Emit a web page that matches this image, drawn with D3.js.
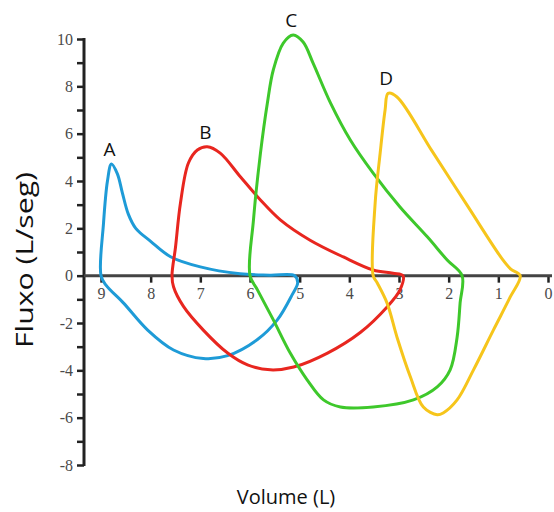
<!DOCTYPE html>
<html>
<head>
<meta charset="utf-8">
<script src="https://cdn.jsdelivr.net/npm/d3@7"></script>
<style>
    body { margin: 0; background: #fff; }
    .tick text { font-family: "Liberation Serif", "DejaVu Serif", serif; fill: #4a4a4a; }
</style>
</head>
<body>
<svg id="chart" width="554" height="512"></svg>
<script>
/**
 * Flow-volume loops. Each loop is a list of [volume (L), flow (L/s)] points, in drawing order.
 */
const loopA = [[9.0, 0], [8.95, 2.2], [8.87, 4.0], [8.79, 4.72], [8.67, 4.3], [8.57, 3.5], [8.45, 2.6],
    [8.3, 2.0], [8.0, 1.45], [7.6, 0.8], [7.0, 0.37], [6.2, 0.08], [5.6, 0.02], [5.1, 0],
    [5.04, -0.3], [5.15, -0.8], [5.45, -1.87], [5.85, -2.7], [6.45, -3.38], [6.94, -3.5], [7.54, -3.14],
    [8.06, -2.3], [8.55, -1.15], [8.9, -0.4]];

const loopB = [[7.57, 0], [7.5, 1.2], [7.4, 3.07], [7.24, 4.76], [7.06, 5.31], [6.86, 5.45], [6.6, 5.18],
    [6.19, 4.17], [5.79, 3.2], [5.39, 2.36], [4.79, 1.5], [4.12, 0.79], [3.52, 0.24], [3.12, 0.1],
    [2.92, 0], [2.98, -0.6], [3.24, -1.32], [3.78, -2.4], [4.44, -3.27], [5.12, -3.86], [5.59, -3.98],
    [6.05, -3.77], [6.45, -3.27], [6.94, -2.3], [7.34, -1.3], [7.54, -0.47]];

const loopC = [[6.0, 0], [5.93, 2.36], [5.79, 5.17], [5.65, 7.3], [5.53, 8.7], [5.33, 9.83], [5.13, 10.17],
    [4.93, 9.87], [4.73, 8.98], [4.38, 7.3], [3.98, 5.73], [3.52, 4.33], [2.98, 2.9], [2.43, 1.64],
    [2.03, 0.66], [1.73, 0], [1.77, -1.16], [1.83, -2.6], [1.97, -3.98], [2.23, -4.7], [2.71, -5.25],
    [3.52, -5.55], [4.18, -5.55], [4.52, -5.25], [4.85, -4.4], [5.19, -3.27], [5.53, -1.87], [5.85, -0.6]];

const loopD = [[3.52, 0], [3.48, 3.07], [3.38, 5.17], [3.28, 7.0], [3.22, 7.7], [3.04, 7.55], [2.33, 5.25],
    [1.63, 2.98], [0.92, 0.7], [0.75, 0.28], [0.56, 0], [0.76, -0.9], [1.1, -2.3],
    [1.5, -3.98], [1.83, -5.25], [2.11, -5.8], [2.23, -5.88], [2.51, -5.55], [2.77, -4.28],
    [3.04, -2.6], [3.24, -1.16], [3.44, -0.3]];

const loopNames = ['A', 'B', 'C', 'D'];
const loopColors = ['#1e9bd7', '#e8261f', '#3ec82b', '#f6c51b'];

const xTicks = [9, 8, 7, 6, 5, 4, 3, 2, 1, 0];
const yTicks = [-8, -7, -6, -5, -4, -3, -2, -1, 0, 1, 2, 3, 4, 5, 6, 7, 8, 9, 10];

const xTitle = 'Volume (L)',
    yTitle = 'Fluxo (L/seg)';

/**
 * Visual configs.
 */
const axisX = 84, // where the flow axis sits
    axisRight = 552;

const svg = d3.select('#chart');

const xScale = d3.scaleLinear().domain([9, 0]).range([101, 548]),
    yScale = d3.scaleLinear().domain([-8, 10]).range([465, 39]);

// Flow axis (left)
const yAxis = svg.append('g')
    .attr('transform', 'translate(' + axisX + ',0)')
    .call(d3.axisLeft(yScale)
        .tickValues(yTicks)
        .tickSize(7)
        .tickPadding(4)
        .tickFormat(d => d % 2 === 0 ? d : ''));
yAxis.select('.domain').remove();
yAxis.selectAll('.tick line').attr('stroke', '#222').attr('stroke-width', 2.5);
yAxis.selectAll('.tick text').style('font-size', '16px');
yAxis.append('line')
    .attr('y1', yScale(10) - 1).attr('y2', yScale(-8) + 1)
    .attr('stroke', '#222').attr('stroke-width', 3);

// Volume axis (on the zero line)
const xAxis = svg.append('g')
    .attr('transform', 'translate(0,' + yScale(0) + ')')
    .call(d3.axisBottom(xScale)
        .tickValues(xTicks)
        .tickSize(7)
        .tickPadding(5)
        .tickFormat(d3.format('d')));
xAxis.select('.domain').remove();
xAxis.selectAll('.tick line').attr('stroke', '#222').attr('stroke-width', 2.5);
xAxis.selectAll('.tick text').style('font-size', '16px');
xAxis.append('line')
    .attr('x1', axisX).attr('x2', axisRight)
    .attr('stroke', '#444').attr('stroke-width', 3);

/**
 * Loops.
 */
const line = d3.line()
    .x(d => xScale(d[0]))
    .y(d => yScale(d[1]))
    .curve(d3.curveCatmullRomClosed.alpha(0.5));

const loops = [loopA, loopB, loopC, loopD];

svg.append('g').selectAll('path')
    .data(loops)
    .join('path')
    .attr('d', line)
    .attr('fill', 'none')
    .attr('stroke', (d, i) => loopColors[i])
    .attr('stroke-width', 3)
    .attr('stroke-linejoin', 'round');

// Letter above each peak
svg.append('g').selectAll('text')
    .data(loops)
    .join('text')
    .attr('x', d => xScale(d3.greatest(d, p => p[1])[0]) - 2)
    .attr('y', d => yScale(d3.max(d, p => p[1])) - 8)
    .attr('text-anchor', 'middle')
    .style('font-family', '"Open Sans", sans-serif')
    .style('font-size', '19px')
    .style('fill', '#111')
    .text((d, i) => loopNames[i]);

/**
 * Axis titles.
 */
svg.append('text')
    .attr('x', 286).attr('y', 504)
    .attr('text-anchor', 'middle')
    .style('font-family', '"Open Sans", sans-serif')
    .style('font-size', '20px')
    .style('fill', '#111')
    .text(xTitle);

svg.append('text')
    .attr('transform', 'translate(33,260) rotate(-90)')
    .attr('text-anchor', 'middle')
    .attr('textLength', 176)
    .attr('lengthAdjust', 'spacingAndGlyphs')
    .style('font-family', '"Open Sans", sans-serif')
    .style('font-size', '24px')
    .style('fill', '#111')
    .text(yTitle);
</script>
</body>
</html>
